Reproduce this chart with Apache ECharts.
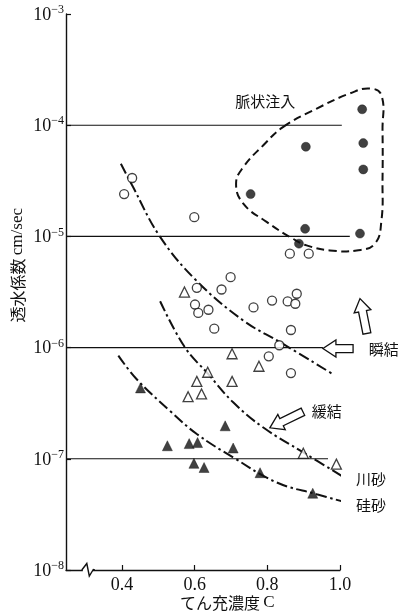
<!DOCTYPE html>
<html>
<head>
<meta charset="utf-8">
<script src="https://cdn.jsdelivr.net/npm/echarts@6/dist/echarts.min.js"></script>
<style>
  html, body { margin: 0; padding: 0; background: #fff; }
  #chart { width: 398px; height: 615px; }
</style>
</head>
<body>
<div id="chart"></div>
<script>
// Grouting concentration C versus permeability (cm/sec)

// x-axis range and labelled ticks
const xMin = 0.246;
const xMax = 1.0;
const xTickValues = [0.4, 0.6, 0.8, 1.0];

// y-axis decades
const yMin = 1e-8;
const yMax = 1e-3;

// open circles
const openCircles = [
  [0.428, 3.35e-5], [0.406, 2.4e-5], [0.599, 1.49e-5], [0.862, 7.0e-6], [0.914, 7.0e-6],
  [0.699, 4.3e-6], [0.606, 3.45e-6], [0.674, 3.33e-6], [0.601, 2.44e-6], [0.610, 2.05e-6],
  [0.638, 2.19e-6], [0.654, 1.48e-6], [0.762, 2.3e-6], [0.813, 2.65e-6], [0.856, 2.6e-6],
  [0.881, 3.05e-6], [0.877, 2.48e-6], [0.865, 1.44e-6], [0.833, 1.05e-6], [0.804, 8.35e-7],
  [0.865, 5.9e-7]
];

// filled circles (pulse injection)
const filledCircles = [
  [0.754, 2.4e-5], [0.887, 8.6e-6], [1.061, 1.39e-4], [0.906, 6.4e-5],
  [1.064, 6.9e-5], [1.064, 4.0e-5], [0.904, 1.17e-5], [1.055, 1.06e-5]
];

// open triangles
const openTriangles = [
  [0.572, 3.16e-6], [0.703, 8.8e-7], [0.777, 6.8e-7], [0.636, 6.0e-7], [0.606, 4.97e-7],
  [0.703, 4.97e-7], [0.619, 3.83e-7], [0.582, 3.62e-7], [0.899, 1.12e-7], [0.990, 8.95e-8]
];

// filled triangles
const filledTriangles = [
  [0.451, 4.34e-7], [0.684, 1.98e-7], [0.525, 1.31e-7], [0.585, 1.37e-7], [0.608, 1.40e-7],
  [0.706, 1.25e-7], [0.598, 9.1e-8], [0.626, 8.35e-8], [0.780, 7.5e-8], [0.925, 4.9e-8]
];

// trend curves
const curveQuick = [
  [0.397, 4.5e-5], [0.428, 2.88e-5], [0.505, 9.9e-6], [0.605, 4.0e-6],
  [0.734, 1.75e-6], [0.835, 1.12e-6], [0.977, 5.86e-7]
];
const curveRiverSand = [
  [0.505, 2.61e-6], [0.573, 1.007e-6], [0.637, 5.8e-7], [0.706, 3.22e-7],
  [0.789, 1.91e-7], [0.899, 1.14e-7], [1.027, 6.34e-8]
];
const curveSilicaSand = [
  [0.390, 8.47e-7], [0.440, 5.22e-7], [0.532, 2.7e-7], [0.606, 1.67e-7],
  [0.706, 1.03e-7], [0.826, 6.12e-8], [0.936, 4.8e-8], [1.018, 4.04e-8]
];

// boundary of the pulse-injection group
const pulseBoundary = [
  [0.844, 9.66e-5], [0.936, 1.41e-4], [1.027, 1.93e-4], [1.082, 2.14e-4], [1.114, 1.86e-4],
  [1.117, 9.0e-5], [1.117, 3.2e-5], [1.114, 1.39e-5], [1.096, 8.6e-6], [1.046, 7.48e-6],
  [0.972, 7.48e-6], [0.908, 8.3e-6], [0.871, 9.5e-6], [0.798, 1.35e-5], [0.734, 1.97e-5],
  [0.714, 2.98e-5], [0.734, 4.2e-5], [0.789, 6.6e-5]
];

// horizontal reference lines: level and right end
const refLevels = [1e-4, 1e-5, 1e-6, 1e-7];
const refEnds = [1.005, 1.027, 0.953, 0.967];

// hollow arrows: tip and tail
const arrowTips = [[0.953, 9.8e-7], [1.055, 2.76e-6], [0.807, 1.9e-7]];
const arrowTails = [[1.036, 9.8e-7], [1.074, 1.34e-6], [0.898, 2.65e-7]];

// annotation texts and their anchors
const noteTexts = ['脈状注入', '瞬結', '緩結', '川砂', '硅砂'];
const noteAnchors = [[0.794, 1.64e-4], [1.079, 9.6e-7], [0.922, 2.7e-7], [1.044, 6.6e-8], [1.044, 3.78e-8]];
const noteAligns = ['center', 'left', 'left', 'left', 'left'];

const ink = '#111';
const serif = '"Liberation Serif", "DejaVu Serif", serif';
const cjk = '"Noto Sans CJK JP", "Noto Sans CJK SC", sans-serif';

const chart = echarts.init(document.getElementById('chart'), null, { renderer: 'canvas' });

function hollowArrow(t, b) {
  const dx = t[0] - b[0], dy = t[1] - b[1];
  const len = Math.hypot(dx, dy);
  const ux = dx / len, uy = dy / len;
  const nx = -uy, ny = ux;
  const headLen = 13, headW = 8.5, shaftW = 4;
  const neck = [t[0] - ux * headLen, t[1] - uy * headLen];
  return [
    [b[0] + nx * shaftW, b[1] + ny * shaftW],
    [neck[0] + nx * shaftW, neck[1] + ny * shaftW],
    [neck[0] + nx * headW, neck[1] + ny * headW],
    [t[0], t[1]],
    [neck[0] - nx * headW, neck[1] - ny * headW],
    [neck[0] - nx * shaftW, neck[1] - ny * shaftW],
    [b[0] - nx * shaftW, b[1] - ny * shaftW]
  ];
}

const dashDot = [11, 3.5, 2.5, 3.5];

const option = {
  animation: false,
  backgroundColor: '#fff',
  grid: { left: 66, right: 58, top: 14, bottom: 45, containLabel: false },
  xAxis: {
    type: 'value',
    min: xMin,
    max: xMax,
    axisLine: { show: true, onZero: false, lineStyle: { color: ink, width: 1.4 } },
    axisTick: { show: true, inside: true, length: 5, customValues: xTickValues, lineStyle: { color: ink, width: 1.2 } },
    axisLabel: {
      show: true, customValues: xTickValues, margin: 6,
      formatter: v => v.toFixed(1),
      fontFamily: serif, fontSize: 18, color: ink
    },
    splitLine: { show: false }
  },
  yAxis: {
    type: 'log',
    logBase: 10,
    min: yMin,
    max: yMax,
    axisLine: { show: true, lineStyle: { color: ink, width: 1.4 } },
    axisTick: { show: true, inside: true, length: 5, lineStyle: { color: ink, width: 1.2 } },
    minorTick: { show: false },
    axisLabel: {
      show: true, margin: 2,
      formatter: v => {
        const e = Math.round(Math.log10(v));
        return '{b|10}{s|−' + Math.abs(e) + '}';
      },
      rich: {
        b: { fontFamily: serif, fontSize: 18, color: ink, verticalAlign: 'bottom' },
        s: { fontFamily: serif, fontSize: 12, color: ink, verticalAlign: 'bottom', padding: [0, 0, 8, 0] }
      }
    },
    splitLine: { show: false }
  },
  series: [
    {
      name: 'reference lines',
      type: 'custom',
      coordinateSystem: 'cartesian2d',
      silent: true,
      clip: false,
      z: 1,
      data: refLevels.map((v, i) => [refEnds[i], v]),
      renderItem: (params, api) => {
        const a = api.coord([xMin, api.value(1)]);
        const b = api.coord([api.value(0), api.value(1)]);
        return {
          type: 'line',
          shape: { x1: a[0], y1: a[1], x2: b[0], y2: b[1] },
          style: { stroke: ink, lineWidth: 1.1 }
        };
      }
    },
    {
      name: '脈状注入',
      type: 'custom',
      coordinateSystem: 'cartesian2d',
      silent: true,
      clip: false,
      z: 2,
      data: [pulseBoundary[0]],
      renderItem: (params, api) => ({
        type: 'polygon',
        shape: { points: pulseBoundary.map(p => api.coord(p)), smooth: 0.45 },
        style: { fill: 'none', stroke: ink, lineWidth: 2, lineDash: [8, 4.5] }
      })
    },
    {
      name: '瞬結',
      type: 'line',
      data: curveQuick,
      smooth: 0.4,
      showSymbol: false,
      clip: false,
      silent: true,
      z: 2,
      lineStyle: { color: ink, width: 2, type: dashDot }
    },
    {
      name: '川砂',
      type: 'line',
      data: curveRiverSand,
      smooth: 0.4,
      showSymbol: false,
      clip: false,
      silent: true,
      z: 2,
      lineStyle: { color: ink, width: 2, type: dashDot }
    },
    {
      name: '硅砂',
      type: 'line',
      data: curveSilicaSand,
      smooth: 0.4,
      showSymbol: false,
      clip: false,
      silent: true,
      z: 2,
      lineStyle: { color: ink, width: 2, type: dashDot }
    },
    {
      name: 'open circles',
      type: 'scatter',
      data: openCircles,
      symbol: 'circle',
      symbolSize: 9,
      clip: false,
      z: 4,
      itemStyle: { color: '#fff', borderColor: ink, borderWidth: 1.3 }
    },
    {
      name: 'filled circles',
      type: 'scatter',
      data: filledCircles,
      symbol: 'circle',
      symbolSize: 9,
      clip: false,
      z: 4,
      itemStyle: { color: ink, borderColor: ink, borderWidth: 0.5 }
    },
    {
      name: 'open triangles',
      type: 'scatter',
      data: openTriangles,
      symbol: 'triangle',
      symbolSize: 10,
      clip: false,
      z: 4,
      itemStyle: { color: '#fff', borderColor: ink, borderWidth: 1.3 }
    },
    {
      name: 'filled triangles',
      type: 'scatter',
      data: filledTriangles,
      symbol: 'triangle',
      symbolSize: 10,
      clip: false,
      z: 4,
      itemStyle: { color: ink, borderColor: ink, borderWidth: 0.5 }
    },
    {
      name: 'arrows',
      type: 'custom',
      coordinateSystem: 'cartesian2d',
      silent: true,
      clip: false,
      z: 5,
      data: arrowTips,
      renderItem: (params, api) => {
        const t = api.coord(arrowTips[params.dataIndex]);
        const b = api.coord(arrowTails[params.dataIndex]);
        return {
          type: 'polygon',
          shape: { points: hollowArrow(t, b) },
          style: { fill: '#fff', stroke: ink, lineWidth: 1.3 }
        };
      }
    }
  ]
};

chart.setOption(option);

// axis titles, notes and the axis break mark
const px = p => chart.convertToPixel({ gridIndex: 0 }, p);
const graphics = [];

noteTexts.forEach((t, i) => {
  const p = px(noteAnchors[i]);
  graphics.push({
    type: 'text', x: p[0], y: p[1], z: 10,
    style: { text: t, fontFamily: cjk, fontSize: 15, fill: ink, align: noteAligns[i], verticalAlign: 'middle' }
  });
});

// x-axis title
const xTitlePos = px([0.69, yMin]);
graphics.push({
  type: 'text', x: xTitlePos[0], y: xTitlePos[1] + 33, z: 10,
  style: {
    text: '{j|てん充濃度} {l|C}',
    align: 'center', verticalAlign: 'middle',
    rich: {
      j: { fontFamily: cjk, fontSize: 16, fill: ink },
      l: { fontFamily: serif, fontSize: 17, fill: ink }
    }
  }
});

// y-axis title
const yTitlePos = px([xMin, 5.5e-6]);
graphics.push({
  type: 'text', x: 18, y: yTitlePos[1], rotation: Math.PI / 2, z: 10,
  style: {
    text: '{j|透水係数} {l|cm/sec}',
    align: 'center', verticalAlign: 'middle',
    rich: {
      j: { fontFamily: cjk, fontSize: 16, fill: ink },
      l: { fontFamily: serif, fontSize: 17, fill: ink }
    }
  }
});

// break mark on the x axis
const brk = px([0.306, yMin]);
graphics.push({
  type: 'rect', z: 9,
  shape: { x: brk[0] - 5, y: brk[1] - 3, width: 10, height: 6 },
  style: { fill: '#fff' }
});
graphics.push({
  type: 'polyline', z: 10,
  shape: { points: [[brk[0] - 6, brk[1]], [brk[0] - 1, brk[1] - 6.5], [brk[0] + 1.5, brk[1] + 6], [brk[0] + 5.5, brk[1] - 0.5], [brk[0] + 7, brk[1]]] },
  style: { stroke: ink, lineWidth: 1.4, fill: 'none' }
});

chart.setOption({ graphic: graphics });
</script>
</body>
</html>
